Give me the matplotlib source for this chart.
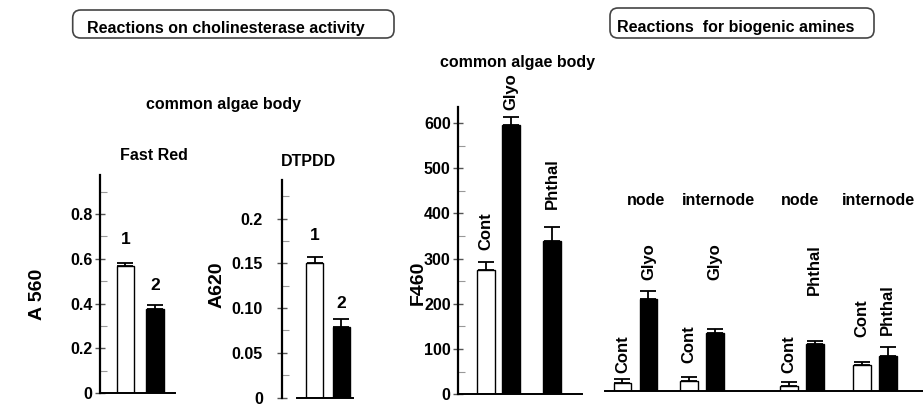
import matplotlib.pyplot as plt
from matplotlib.patches import FancyBboxPatch
from matplotlib.ticker import MultipleLocator, FixedLocator

plt.rcParams['font.family'] = ['Liberation Sans', 'DejaVu Sans']
plt.rcParams['font.weight'] = 'bold'

W, H = 923, 405

# --- data ---
fast_red_labels = ['1', '2']
fast_red_values = [0.57, 0.375]
fast_red_errors = [0.012, 0.02]

dtpdd_labels = ['1', '2']
dtpdd_values = [0.150, 0.079]
dtpdd_errors = [0.007, 0.009]

f460_labels = ['Cont', 'Glyo', 'Phthal']
f460_values = [275, 596, 339]
f460_errors = [18, 18, 30]

amine_parts = ['node', 'internode', 'node', 'internode']
amine_labels = ['Cont', 'Glyo', 'Cont', 'Glyo', 'Cont', 'Phthal', 'Cont', 'Phthal']
amine_values = [18, 202, 21, 128, 11, 103, 57, 77]
amine_errors = [8, 19, 10, 8, 9, 7, 7, 20]


def px_axes(fig, left, top, right, bottom):
    return fig.add_axes([left / W, 1 - bottom / H, (right - left) / W, (bottom - top) / H])


def fig_text(fig, x, y, s, **kw):
    fig.text(x / W, 1 - y / H, s, **kw)


def bar_colors(labels):
    return ['white' if lab in ('1', 'Cont') else 'black' for lab in labels]


def draw_bars(ax, x, values, errors, labels, width, offsets, rotate):
    ax.bar(x, values, width=width, color=bar_colors(labels), edgecolor='black',
           linewidth=1.0, zorder=2)
    ax.errorbar(x, values, yerr=[[0] * len(values), errors], fmt='none', ecolor='black',
                elinewidth=1.3, capsize=6, capthick=1.3, zorder=3)
    for xi, v, e, lab, off in zip(x, values, errors, labels, offsets):
        ax.annotate(lab, (xi, v + e), xytext=(0, off), textcoords='offset pixels',
                    ha='center', va='bottom', rotation=90 if rotate else 0,
                    fontsize=12 if rotate else 12.5)


def style_axis(ax, major, minor, labels, pad):
    for s in ['top', 'right']:
        ax.spines[s].set_visible(False)
    ax.spines['left'].set_linewidth(1.6)
    ax.spines['bottom'].set_linewidth(1.4)
    ax.set_xticks([])
    ax.yaxis.set_major_locator(FixedLocator(major))
    ax.set_yticklabels(labels)
    ax.yaxis.set_minor_locator(MultipleLocator(minor))
    ax.tick_params(axis='y', which='major', direction='inout', length=7, width=1,
                   labelsize=11.5, pad=pad, color='#555555')
    ax.tick_params(axis='y', which='minor', direction='in', length=5, width=0.8,
                   color='#999999')


fig = plt.figure(figsize=(W / 100, H / 100), dpi=100)

# title boxes
for (l, t, r, b), (tx, ty), txt in [((72.7, 10, 394, 38), (86.7, 32.5), 'Reactions on cholinesterase activity'),
                                    ((610, 8, 874, 38), (617, 32), 'Reactions  for biogenic amines')]:
    box = FancyBboxPatch((l / 100, (H - b) / 100), (r - l) / 100, (b - t) / 100,
                         boxstyle='round,pad=0,rounding_size=0.08',
                         transform=fig.dpi_scale_trans, fill=False,
                         edgecolor='#444444', linewidth=1.2)
    fig.add_artist(box)
    fig_text(fig, tx, ty, txt, fontsize=11.5, ha='left', va='baseline')

fig_text(fig, 224, 105, 'common algae body', fontsize=11.5, ha='center', va='center')
fig_text(fig, 517, 62, 'common algae body', fontsize=11.5, ha='center', va='center')
fig_text(fig, 154, 156, 'Fast Red', fontsize=11.5, ha='center', va='center')
fig_text(fig, 308, 162, 'DTPDD', fontsize=11.5, ha='center', va='center')
fig_text(fig, 37, 294, 'A 560', fontsize=14, rotation=90, ha='center', va='center')
fig_text(fig, 217, 285, 'A620', fontsize=14, rotation=90, ha='center', va='center')
fig_text(fig, 418, 283, 'F460', fontsize=14, rotation=90, ha='center', va='center')

# Fast Red
ax1 = px_axes(fig, 100, 175, 175, 393)
draw_bars(ax1, [0, 1], fast_red_values, fast_red_errors, fast_red_labels, 0.58, [16, 12], False)
ax1.set_xlim(-0.864, 1.678)
ax1.set_ylim(0, 0.975)
style_axis(ax1, [0, 0.2, 0.4, 0.6, 0.8], 0.1, ['0', '0.2', '0.4', '0.6', '0.8'], 2)

# DTPDD
ax2 = px_axes(fig, 281.7, 180.3, 353, 397.5)
draw_bars(ax2, [0, 1], dtpdd_values, dtpdd_errors, dtpdd_labels, 0.65, [14, 8], False)
ax2.set_xlim(-1.236, 1.434)
ax2.set_ylim(0, 0.243)
ax2.spines['bottom'].set_bounds(-0.68, 1.434)
style_axis(ax2, [0, 0.05, 0.10, 0.15, 0.2], 0.025, ['0', '0.05', '0.10', '0.15', '0.2'], 10)

# F460 common algae body
ax3 = px_axes(fig, 458.3, 106.7, 581.7, 394.3)
draw_bars(ax3, [0, 1, 2.64], f460_values, f460_errors, f460_labels, 0.71, [12, 7, 18], True)
ax3.set_xlim(-1.116, 3.82)
ax3.set_ylim(0, 636)
style_axis(ax3, list(range(0, 700, 100)), 50, [str(v) for v in range(0, 700, 100)], 2)

# biogenic amines, node / internode
ax4 = px_axes(fig, 605, 106.7, 923, 390.7)
amine_x = [0, 1, 2.55, 3.55, 6.4, 7.4, 9.2, 10.2]
draw_bars(ax4, amine_x, amine_values, amine_errors, amine_labels, 0.69,
          [6, 11, 14, 49, 9, 46, 25, 12], True)
ax4.set_xlim(-0.673, 11.56)
ax4.set_ylim(0, 628)
for s in ['top', 'right', 'left']:
    ax4.spines[s].set_visible(False)
ax4.spines['bottom'].set_linewidth(1.4)
ax4.set_xticks([])
ax4.set_yticks([])
for xp, part in zip([0.9, 3.68, 6.83, 9.84], amine_parts):
    ax4.text(xp, 420, part, fontsize=11.5, ha='center', va='center')

fig.savefig('out.png', dpi=100)
